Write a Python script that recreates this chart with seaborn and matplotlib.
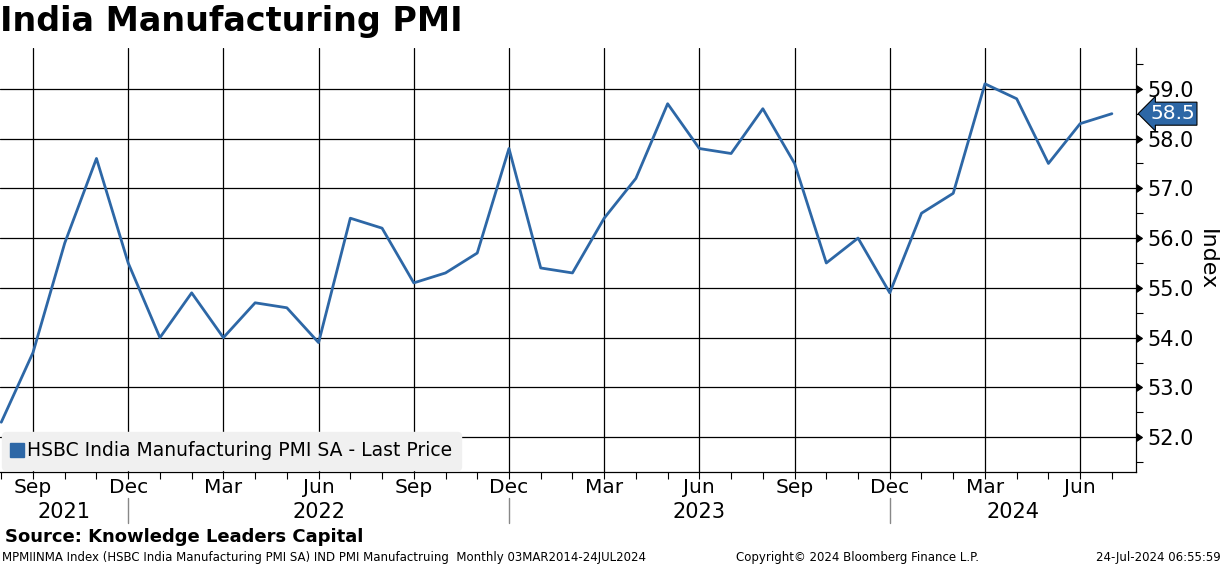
import matplotlib
matplotlib.use("Agg")
import matplotlib.pyplot as plt
import matplotlib.markers as mmarkers
import matplotlib.transforms as mtransforms
from matplotlib.lines import Line2D
import seaborn as sns
import pandas as pd
import numpy as np

# ---- data ----
months = ["Aug 2021", "Sep 2021", "Oct 2021", "Nov 2021", "Dec 2021",
          "Jan 2022", "Feb 2022", "Mar 2022", "Apr 2022", "May 2022", "Jun 2022",
          "Jul 2022", "Aug 2022", "Sep 2022", "Oct 2022", "Nov 2022", "Dec 2022",
          "Jan 2023", "Feb 2023", "Mar 2023", "Apr 2023", "May 2023", "Jun 2023",
          "Jul 2023", "Aug 2023", "Sep 2023", "Oct 2023", "Nov 2023", "Dec 2023",
          "Jan 2024", "Feb 2024", "Mar 2024", "Apr 2024", "May 2024", "Jun 2024",
          "Jul 2024"]
pmi = [52.3, 53.7, 55.9, 57.6, 55.5,
       54.0, 54.9, 54.0, 54.7, 54.6, 53.9,
       56.4, 56.2, 55.1, 55.3, 55.7, 57.8,
       55.4, 55.3, 56.4, 57.2, 58.7, 57.8,
       57.7, 58.6, 57.5, 55.5, 56.0, 54.9,
       56.5, 56.9, 59.1, 58.8, 57.5, 58.3,
       58.5]
tick_months = ["Sep", "Dec", "Mar", "Jun", "Sep", "Dec", "Mar", "Jun", "Sep", "Dec", "Mar", "Jun"]
years = ["2021", "2022", "2023", "2024"]
series_name = "HSBC India Manufacturing PMI SA - Last Price"
last_value = pmi[-1]

df = pd.DataFrame({"month": months, "pmi": pmi})
df["idx"] = np.arange(len(df))

BLUE = "#2d67a6"

sns.set_theme(style="white")
plt.rcParams["font.family"] = ["DejaVu Sans"]
plt.rcParams["text.color"] = "black"
plt.rcParams["axes.labelcolor"] = "black"
plt.rcParams["xtick.color"] = "black"
plt.rcParams["ytick.color"] = "black"

W, H = 1224, 566
fig = plt.figure(figsize=(W / 100, H / 100), dpi=100)
ax_left, ax_right, ax_top, ax_bot = 0, 1136, 48, 472
ax = fig.add_axes([ax_left / W, 1 - ax_bot / H, (ax_right - ax_left) / W, (ax_bot - ax_top) / H])

sns.lineplot(data=df, x="idx", y="pmi", ax=ax, color=BLUE, linewidth=2.0, legend=False)

xlo, xhi = -0.04, 35.76
ax.set_xlim(xlo, xhi)
ax.set_ylim(51.3, 59.82)

# x ticks
major_idx = [i for i, m in enumerate(months) if m.split()[0] in ("Sep", "Dec", "Mar", "Jun")]
ax.xaxis.remove_overlapping_locs = False
ax.set_xticks(major_idx)
ax.set_xticklabels(tick_months, fontsize=14.5)
ax.set_xticks(df["idx"].tolist(), minor=True)
ax.tick_params(axis="x", which="major", bottom=True, length=0, pad=4)
ax.tick_params(axis="x", which="minor", bottom=True, length=5, width=0.8, direction="out")

# y ticks on right
ax.yaxis.tick_right()
ax.yaxis.set_label_position("right")
yt = np.arange(52, 60, 1.0)
ax.set_yticks(yt)
ax.set_yticklabels([f"{v:.1f}" for v in yt], fontsize=15)
ax.set_yticks(np.arange(51.5, 60, 1.0), minor=True)
ax.tick_params(axis="y", which="major", length=6, width=0.8, pad=2, right=True, left=False)
ax.tick_params(axis="y", which="minor", length=5, width=0.8, direction="out", right=True, left=False)
for t in ax.yaxis.get_major_ticks():
    t.tick2line.set_marker(mmarkers.CARETRIGHTBASE)
    t.tick2line.set_markersize(6)
    t.tick2line.set_color("black")
ax.set_ylabel("Index", fontsize=16, rotation=-90, labelpad=17)
ax.set_xlabel("")

ax.grid(True, which="major", color="black", linewidth=0.9)
ax.set_axisbelow(True)
for s in ["top", "left"]:
    ax.spines[s].set_visible(False)
for s in ["right", "bottom"]:
    ax.spines[s].set_color("black")
    ax.spines[s].set_linewidth(0.9)

# last value tag
trans = mtransforms.blended_transform_factory(ax.transAxes, ax.transData)
ax.text(1.0125, last_value, f"{last_value:.1f}", transform=trans, ha="left", va="center",
        fontsize=14.5, color="white", clip_on=False, zorder=10,
        bbox=dict(boxstyle="larrow,pad=0.1", fc=BLUE, ec="black", lw=0.8))

# legend
handle = Line2D([], [], marker="s", linestyle="none", color=BLUE, markersize=10)
leg = ax.legend([handle], [series_name], loc="lower left", bbox_to_anchor=(0.0, 0.0),
                fontsize=13.5, frameon=True, fancybox=True, framealpha=1.0,
                facecolor="#f0f0f0", edgecolor="#f0f0f0", handlelength=0.6,
                handletextpad=0.2, borderpad=0.5, borderaxespad=0.12)
leg.set_zorder(20)

# year labels and separators
xt = mtransforms.blended_transform_factory(ax.transData, fig.transFigure)
seps = [i for i, m in enumerate(months) if m.startswith("Dec")]
bounds = [xlo] + seps + [xhi]
for k, y in enumerate(years):
    c = (bounds[k] + bounds[k + 1]) / 2
    ax.text(c, 1 - 512 / H, y, transform=xt, ha="center", va="center", fontsize=15, clip_on=False)
for s in seps:
    ax.add_line(Line2D([s, s], [1 - 498 / H, 1 - 523 / H], transform=xt, color="#888888",
                       linewidth=1.0, clip_on=False))

# title and footers
fig.text(0.0, 1 - 22 / H, "India Manufacturing PMI", fontsize=24, fontweight="bold",
         ha="left", va="center")
fig.text(5 / W, 1 - 537 / H, "Source: Knowledge Leaders Capital", fontsize=13, fontweight="bold",
         ha="left", va="center")
fig.text(2 / W, 1 - 557 / H,
         "MPMIINMA Index (HSBC India Manufacturing PMI SA) IND PMI Manufactruing  Monthly 03MAR2014-24JUL2024",
         fontsize=8.5, ha="left", va="center")
fig.text(857 / W, 1 - 557 / H, "Copyright\u00a9 2024 Bloomberg Finance L.P.", fontsize=8.5,
         ha="center", va="center")
fig.text(1221 / W, 1 - 557 / H, "24-Jul-2024 06:55:59", fontsize=8.5, ha="right", va="center")

fig.savefig("out.png", dpi=100, facecolor="white")
